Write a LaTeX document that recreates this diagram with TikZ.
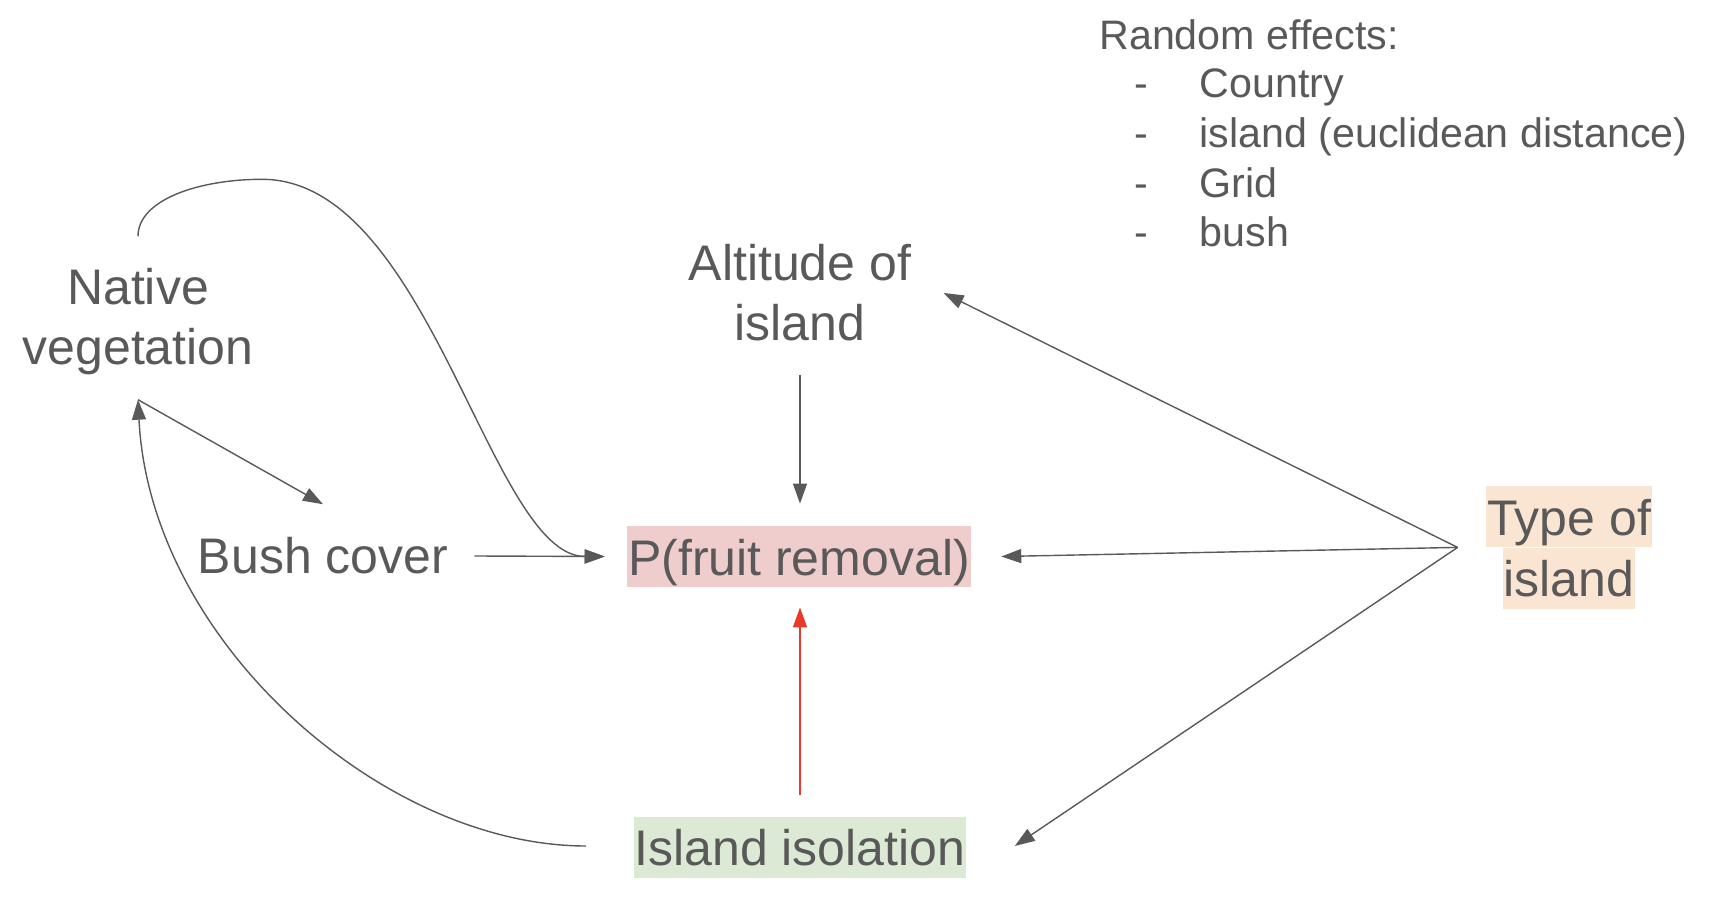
\documentclass[tikz,border=0pt]{standalone}
\usepackage{fontspec}
\setmainfont{Liberation Sans}
\usetikzlibrary{positioning,arrows.meta,matrix}
\definecolor{txtgray}{HTML}{595959}
\definecolor{hlred}{HTML}{F0CDCD}
\definecolor{hlgreen}{HTML}{DCEAD5}
\definecolor{hlorange}{HTML}{FAE5D2}
\definecolor{arrred}{HTML}{E8392B}
\tikzset{
    lbl/.style={font=\fontsize{25}{30}\selectfont,text=txtgray,align=center,inner sep=0pt},
    hl/.style={lbl,inner xsep=0.5pt,inner ysep=0pt,text height=24.5pt,text depth=6pt},
    effect/.style={font=\fontsize{20.6}{24.8}\selectfont,text=txtgray,inner sep=0pt},
    link/.style={draw=txtgray,line width=0.7pt,-{Triangle[length=10pt,width=7pt]}},
}

\begin{document}
\begin{tikzpicture}[x=0.5pt,y=-0.5pt]
    \useasboundingbox (0,0) rectangle (1710,904);
    \node(native)[lbl] at (138,322) {Native\\vegetation};
    \node(alt)[lbl] at (800,293) {Altitude of\\island};
    \node(bush)[lbl] at (323,556) {Bush cover};
    \node(pfr)[hl,fill=hlred] at (799,556.5) {P(fruit removal)};
    \node(isl)[hl,fill=hlgreen] at (800,847) {Island isolation};
    \node(typeA)[hl,fill=hlorange] at (1569,516.5) {Type of};
    \node(typeB)[hl,fill=hlorange,below=0pt of typeA] {island};
    \coordinate(fork) at ([shift={(-28,0)}]typeA.south west);

    \node(rehead)[effect,anchor=west] at (1099,35) {Random effects:};
    \matrix(effects)[matrix anchor=west,column sep=26pt,row sep=4.8pt,
        nodes={effect,text height=15pt,text depth=5pt}] at (1127,162.4) {
        \node(d1)[]{-}; & \node(e1)[anchor=west]{Country};                     \\
        \node(d2)[]{-}; & \node(e2)[anchor=west]{island (euclidean distance)}; \\
        \node(d3)[]{-}; & \node(e3)[anchor=west]{Grid};                        \\
        \node(d4)[]{-}; & \node(e4)[anchor=west]{bush};                        \\
    };

    \draw[link] ([shift={(0,24)}]native.south) -- ([shift={(0,-33)}]bush.north);
    \draw[link] ([shift={(0,-32)}]native.north) .. controls +(0,-37) and +(-62,0) .. ++(124,-57)
        .. controls +(168,0) and +(-115,0) .. ([shift={(-22,0)}]pfr.west);
    \draw[link] ([shift={(-47,-1)}]isl.west) .. controls +(-204,0) and +(12,241) .. ([shift={(0,24)}]native.south);
    \draw[link] ([shift={(26,0)}]bush.east) -- ([shift={(-22,0)}]pfr.west);
    \draw[link] ([shift={(0,33)}]alt.south) -- ([shift={(1,-22)}]pfr.north);
    \draw[link,draw=arrred] ([shift={(0,-21)}]isl.north) -- ([shift={(1,20)}]pfr.south);
    \draw[link] (fork) -- ([shift={(32,0)}]alt.east);
    \draw[link] (fork) -- ([shift={(30,0)}]pfr.east);
    \draw[link] (fork) -- ([shift={(48,-1)}]isl.east);
\end{tikzpicture}
\end{document}
